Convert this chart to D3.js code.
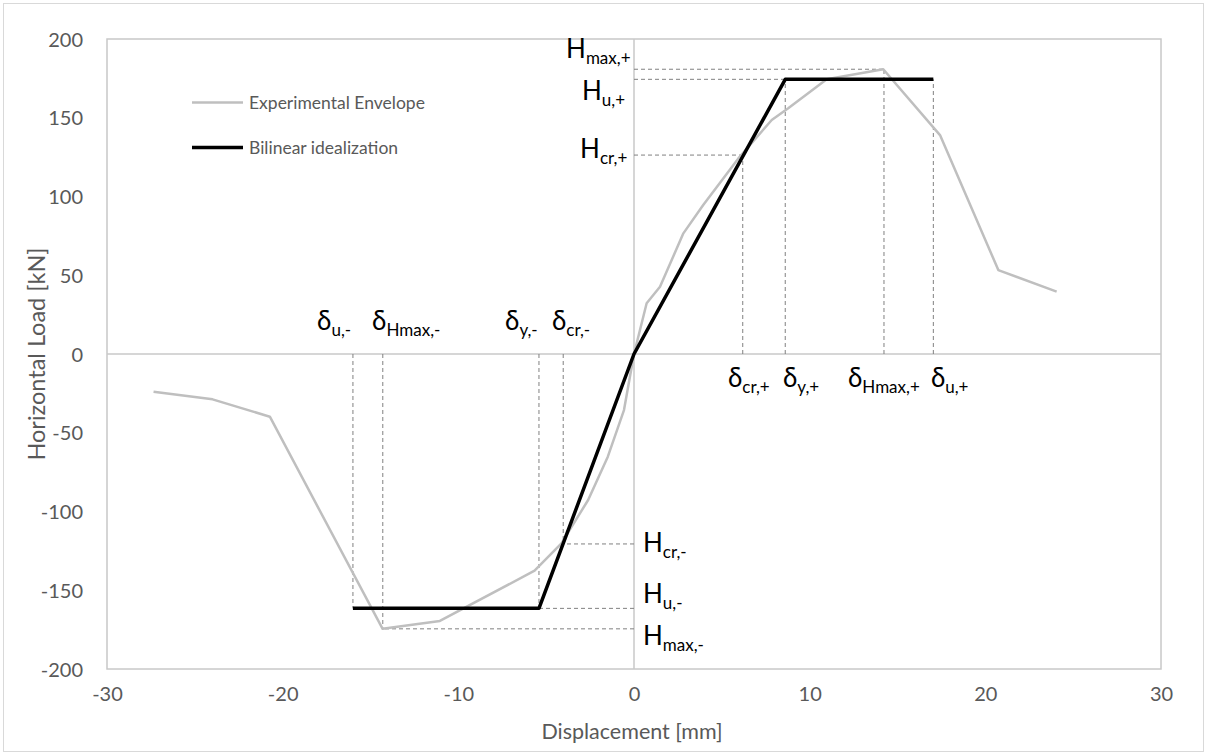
<!DOCTYPE html>
<html><head><meta charset="utf-8">
<script src="https://cdn.jsdelivr.net/npm/d3@7"></script>
<style>
html,body{margin:0;padding:0;background:#fff;}
svg{display:block;font-family:Lato,'Open Sans','Noto Sans',sans-serif;}
</style></head><body>
<svg id="chart" width="1207" height="755"></svg>
<script>
// ---- data ----
const xTicks = [-30, -20, -10, 0, 10, 20, 30];
const yTicks = [-200, -150, -100, -50, 0, 50, 100, 150, 200];
const envelopeX = [-27.35, -23.99, -20.73, -14.31, -11.05, -5.66, -4.13, -2.61, -1.49, -0.57, 0, 0.72, 1.48, 2.81, 3.94, 5.94, 7.84, 8.78, 10.97, 14.19, 17.42, 20.74, 24.06];
const envelopeY = [-23.9, -28.8, -39.8, -174.5, -169.5, -137.6, -120.2, -92.7, -65.2, -35.6, 0, 32.2, 42.7, 76.6, 94.6, 124.2, 148.6, 156, 174.4, 180.8, 139, 53.3, 39.6];
const bilinearX = [-16.0, -5.41, 0, 8.61, 17.04];
const bilinearY = [-161.5, -161.5, 0, 174.4, 174.4];
// characteristic points: [displacement, load]
const posPoints = { cr: [6.19, 126.3], y: [8.61, 174.4], Hmax: [14.23, 180.8], u: [17.04, 174.4] };
const negPoints = { cr: [-4.03, -120.6], y: [-5.41, -161.5], Hmax: [-14.3, -174.5], u: [-16.0, -161.5] };
const seriesNames = ["Experimental Envelope", "Bilinear idealization"];
// annotation labels: main symbol, subscript, anchor (data units)
const labelMain = ["H", "H", "H", "H", "H", "H", "δ", "δ", "δ", "δ", "δ", "δ", "δ", "δ"];
const labelSub = ["max,+", "u,+", "cr,+", "cr,-", "u,-", "max,-", "u,-", "Hmax,-", "y,-", "cr,-", "cr,+", "y,+", "Hmax,+", "u,+"];
const labelX = [-3.87, -2.96, -3.07, 0.51, 0.51, 0.51, -18.04, -14.91, -7.34, -4.67, 5.35, 8.48, 12.18, 16.9];
const labelY = [187.9, 161.3, 124.4, -125.7, -158.1, -184.8, 15.2, 15.2, 15.2, 15.2, -21, -21, -21, -21];

// ---- layout ----
const svg = d3.select("#chart");
const W = 1207, H = 755;
const m = { left: 107, right: 1161, top: 39, bottom: 669 };
const x = d3.scaleLinear().domain([-30, 30]).range([m.left, m.right]);
const y = d3.scaleLinear().domain([-200, 200]).range([m.bottom, m.top]);
const textCol = "#595959";

svg.append("rect").attr("x", 3.5).attr("y", 3.5).attr("width", W - 7).attr("height", H - 7)
  .attr("fill", "#fff").attr("stroke", "#d9d9d9").attr("stroke-width", 1);

// plot border
svg.append("rect").attr("x", m.left).attr("y", m.top).attr("width", m.right - m.left).attr("height", m.bottom - m.top)
  .attr("fill", "none").attr("stroke", "#c8c8c8").attr("stroke-width", 1.5);

// zero axes
svg.append("line").attr("x1", x(-30)).attr("x2", x(30)).attr("y1", y(0)).attr("y2", y(0))
  .attr("stroke", "#c8c8c8").attr("stroke-width", 1.5);
svg.append("line").attr("x1", x(0)).attr("x2", x(0)).attr("y1", y(-200)).attr("y2", y(200))
  .attr("stroke", "#c8c8c8").attr("stroke-width", 1.5);

// axes (labels only)
const fmt = d => String(d);
const xAxis = d3.axisBottom(x).tickValues(xTicks).tickSize(0).tickPadding(0).tickFormat(fmt);
const gx = svg.append("g").attr("transform", `translate(0,${m.bottom})`).call(xAxis);
gx.select(".domain").remove();
gx.selectAll("text").attr("y", 25).attr("dy", "0.35em").attr("font-size", 20).attr("fill", textCol)
  .attr("font-family", "Lato,'Open Sans',sans-serif");
const yAxis = d3.axisLeft(y).tickValues(yTicks).tickSize(0).tickPadding(0).tickFormat(fmt);
const gy = svg.append("g").attr("transform", `translate(${m.left},0)`).call(yAxis);
gy.select(".domain").remove();
gy.selectAll("text").attr("x", -24).attr("dy", "0.35em").attr("font-size", 20).attr("fill", textCol)
  .attr("font-family", "Lato,'Open Sans',sans-serif");

// axis titles
svg.append("text").attr("x", x(0) - 2).attr("y", 731).attr("dy", "0.35em").attr("text-anchor", "middle")
  .attr("font-size", 21.5).attr("fill", textCol).text("Displacement [mm]");
svg.append("text").attr("transform", `translate(37,${y(0)}) rotate(-90)`).attr("dy", "0.35em").attr("text-anchor", "middle")
  .attr("font-size", 23.5).attr("fill", textCol).text("Horizontal Load [kN]");

// dashed reference lines
const dashed = [];
[posPoints, negPoints].forEach(p => {
  dashed.push([[0, p.cr[1]], p.cr]);
  dashed.push([[0, p.y[1]], p.y]);
  dashed.push([[0, p.Hmax[1]], p.Hmax]);
  dashed.push([[p.cr[0], 0], p.cr]);
  dashed.push([[p.y[0], 0], p.y]);
  dashed.push([[p.Hmax[0], 0], p.Hmax]);
  dashed.push([[p.u[0], 0], p.u]);
});
svg.append("g").selectAll("line").data(dashed).join("line")
  .attr("x1", d => x(d[0][0])).attr("y1", d => y(d[0][1]))
  .attr("x2", d => x(d[1][0])).attr("y2", d => y(d[1][1]))
  .attr("stroke", "#808080").attr("stroke-width", 1).attr("stroke-dasharray", "4,3");

// series
const line = d3.line().x(d => x(d[0])).y(d => y(d[1]));
const env = envelopeX.map((v, i) => [v, envelopeY[i]]);
const bil = bilinearX.map((v, i) => [v, bilinearY[i]]);
svg.append("path").datum(env).attr("d", line).attr("fill", "none").attr("stroke", "#bfbfbf")
  .attr("stroke-width", 2.5).attr("stroke-linejoin", "round");
svg.append("path").datum(bil).attr("d", line).attr("fill", "none").attr("stroke", "#000")
  .attr("stroke-width", 3.5).attr("stroke-linejoin", "round");

// legend
const legCols = ["#bfbfbf", "#000"];
const legW = [2.5, 3.5];
const legY = [102.5, 147.5];
seriesNames.forEach((n, i) => {
  svg.append("line").attr("x1", 192).attr("x2", 243).attr("y1", legY[i]).attr("y2", legY[i])
    .attr("stroke", legCols[i]).attr("stroke-width", legW[i]);
  svg.append("text").attr("x", 249).attr("y", legY[i]).attr("dy", "0.35em").attr("font-size", 17.5)
    .attr("fill", textCol).text(n);
});

// annotation labels
labelMain.forEach((t, i) => {
  const tx = svg.append("text").attr("x", x(labelX[i])).attr("y", y(labelY[i])).attr("fill", "#000");
  tx.append("tspan").attr("font-size", 26).text(t);
  tx.append("tspan").attr("font-size", 17).attr("dy", 6).text(labelSub[i]);
});
</script>
</body></html>
